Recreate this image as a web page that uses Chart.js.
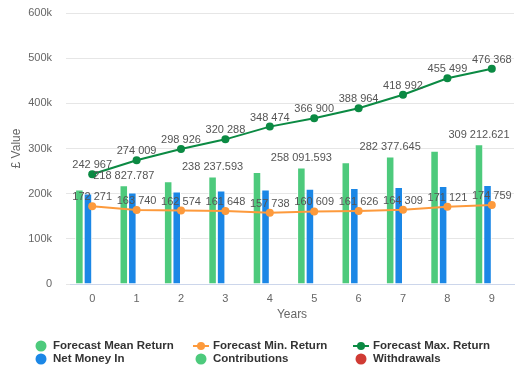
<!DOCTYPE html>
<html>
<head>
<meta charset="utf-8">
<script src="https://cdn.jsdelivr.net/npm/chart.js@4"></script>
<style>
  html, body { margin: 0; padding: 0; background: #fff; }
  #wrap { width: 518px; height: 371px; }
</style>
</head>
<body>
<div id="wrap"><canvas id="chart" width="518" height="371"></canvas></div>
<script>
const years = ["0", "1", "2", "3", "4", "5", "6", "7", "8", "9"];
const meanReturn = [209500, 218827.787, 227600, 238237.593, 247800, 258091.593, 269500, 282377.645, 295100, 309212.621];
const netMoneyIn = [200100, 202600, 204900, 207100, 209000, 210900, 212800, 214700, 216800, 219000];
const contributions = [0, 0, 0, 0, 0, 0, 0, 0, 0, 0];
const withdrawals = [0, 0, 0, 0, 0, 0, 0, 0, 0, 0];
const minReturn = [172271, 163740, 162574, 161648, 157738, 160609, 161626, 164309, 171121, 174759];
const maxReturn = [242967, 274009, 298926, 320288, 348474, 366900, 388964, 418992, 455499, 476368];
const yTicks = [0, 100000, 200000, 300000, 400000, 500000, 600000];

const font = "'Liberation Sans', Arial, sans-serif";

function fmt(v) {
  const parts = String(v).split(".");
  parts[0] = parts[0].replace(/\B(?=(\d{3})+(?!\d))/g, " ");
  return parts.join(".");
}

// value labels above points / bars
const labelPlugin = {
  id: "valueLabels",
  afterDatasetsDraw(chart) {
    const ctx = chart.ctx;
    ctx.save();
    ctx.font = "11px " + font;
    ctx.fillStyle = "#555";
    ctx.textAlign = "center";
    ctx.textBaseline = "middle";
    chart.data.datasets.forEach((ds, i) => {
      if (!ds.showLabels) return;
      const meta = chart.getDatasetMeta(i);
      meta.data.forEach((el, j) => {
        if (ds.type === "bar" && j % 2 === 0) return; // every other bar label hidden (overlap)
        ctx.fillText(fmt(ds.data[j]), el.x, el.y - 9);
      });
    });
    ctx.restore();
  }
};

// legend laid out in three columns
const legendPlugin = {
  id: "columnLegend",
  afterDraw(chart) {
    const ctx = chart.ctx;
    const order = [0, 4, 5, 1, 2, 3];
    const colX = [41, 201, 361];
    const rowY = [346, 359];
    ctx.save();
    ctx.font = "bold 11.5px " + font;
    ctx.textBaseline = "middle";
    ctx.textAlign = "left";
    order.forEach((dsIndex, k) => {
      const ds = chart.data.datasets[dsIndex];
      const x = colX[k % 3];
      const y = rowY[Math.floor(k / 3)];
      ctx.fillStyle = ds.backgroundColor;
      if (ds.type === "line") {
        ctx.strokeStyle = ds.borderColor;
        ctx.lineWidth = 2;
        ctx.beginPath();
        ctx.moveTo(x - 8, y);
        ctx.lineTo(x + 8, y);
        ctx.stroke();
        ctx.fillStyle = ds.borderColor;
        ctx.beginPath();
        ctx.arc(x, y, 4, 0, Math.PI * 2);
        ctx.fill();
      } else {
        ctx.beginPath();
        ctx.arc(x, y, 5.5, 0, Math.PI * 2);
        ctx.fill();
      }
      ctx.fillStyle = "#333";
      ctx.fillText(ds.label, x + 12, y);
    });
    ctx.restore();
  }
};

new Chart(document.getElementById("chart"), {
  data: {
    labels: years,
    datasets: [
      { type: "bar", label: "Forecast Mean Return", data: meanReturn, backgroundColor: "#4dca7c", borderColor: "#fff", borderWidth: 1, order: 2, showLabels: true },
      { type: "bar", label: "Net Money In", data: netMoneyIn, backgroundColor: "#1b87e6", borderColor: "#fff", borderWidth: 1, order: 2 },
      { type: "bar", label: "Contributions", data: contributions, backgroundColor: "#4dca7c", borderColor: "#fff", borderWidth: 0, order: 2 },
      { type: "bar", label: "Withdrawals", data: withdrawals, backgroundColor: "#d03b34", borderColor: "#fff", borderWidth: 0, order: 2 },
      { type: "line", label: "Forecast Min. Return", data: minReturn, borderColor: "#fd9a3c", backgroundColor: "#fd9a3c", borderWidth: 2, pointRadius: 4, pointBackgroundColor: "#fd9a3c", pointBorderWidth: 0, tension: 0, order: 1, showLabels: true },
      { type: "line", label: "Forecast Max. Return", data: maxReturn, borderColor: "#0b8a43", backgroundColor: "#0b8a43", borderWidth: 2, pointRadius: 4, pointBackgroundColor: "#0b8a43", pointBorderWidth: 0, tension: 0, order: 0, showLabels: true }
    ]
  },
  options: {
    responsive: false,
    animation: false,
    layout: { padding: { top: 13, right: 2, bottom: 49, left: 0 } },
    datasets: {
      bar: { categoryPercentage: 0.77, barPercentage: 1 }
    },
    plugins: {
      legend: { display: false },
      tooltip: { enabled: false }
    },
    scales: {
      x: {
        afterFit(scale) { scale.height = 38; },
        grid: { display: false, drawTicks: false },
        border: { color: "#ccd6eb" },
        ticks: { color: "#666", font: { family: font, size: 11 }, padding: 8 },
        title: { display: true, text: "Years", color: "#666", font: { family: font, size: 12 }, padding: { top: 0, bottom: 0 } }
      },
      y: {
        min: 0,
        max: 600000,
        afterBuildTicks(scale) {
          scale.ticks = yTicks.map(v => ({ value: v }));
        },
        afterFit(scale) {
          scale.width = 70;
          scale.paddingTop = 0;
          scale.paddingBottom = 0;
        },
        grid: { color: "#e6e6e6", tickLength: 4, tickColor: "#e6e6e6" },
        border: { display: false },
        ticks: {
          color: "#666",
          font: { family: font, size: 11 },
          padding: 14,
          callback: v => v === 0 ? "0" : (v / 1000) + "k"
        },
        title: { display: true, text: "£ Value", color: "#666", font: { family: font, size: 12 }, padding: { top: 9, bottom: 0 } }
      }
    }
  },
  plugins: [labelPlugin, legendPlugin]
});
</script>
</body>
</html>
